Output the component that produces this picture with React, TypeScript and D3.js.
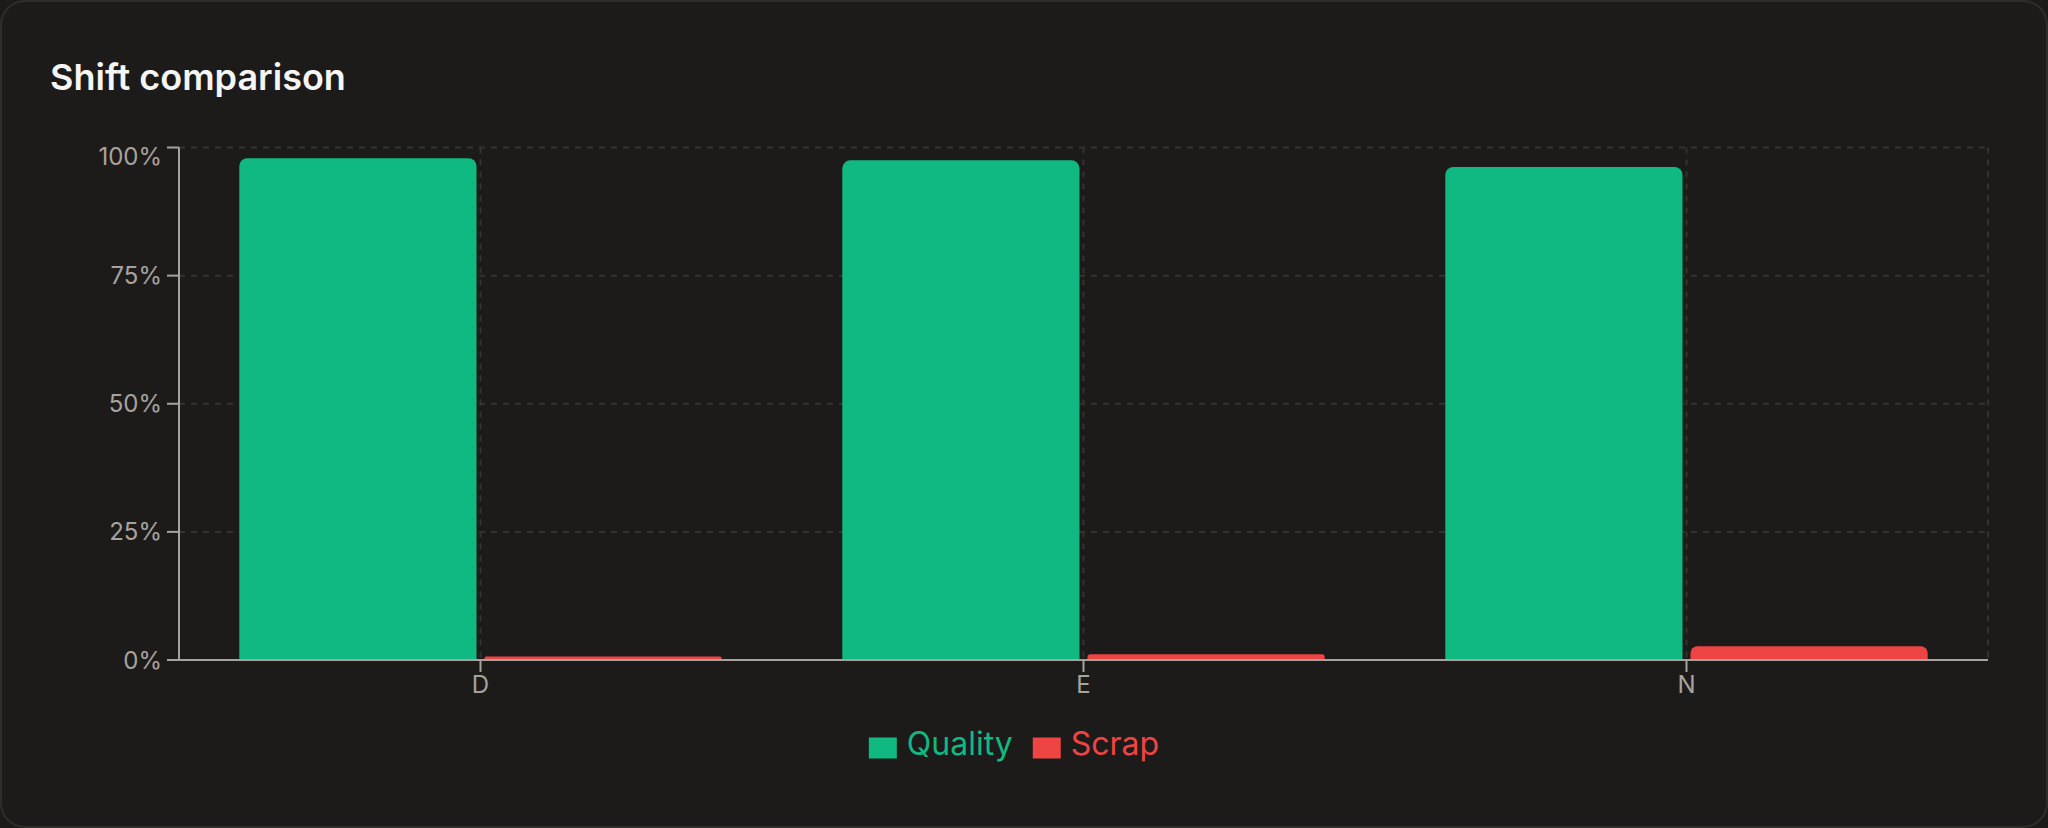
import React, { useEffect, useRef } from "react";
import * as d3 from "d3";

const titleText = "Shift comparison";
const categories = ["D", "E", "N"];
const seriesNames = ["Quality", "Scrap"];
const qualityValues = [97.9, 97.5, 96.2];
const scrapValues = [0.7, 1.1, 2.7];
const yTickValues = [0, 25, 50, 75, 100];

const W = 2048;
const H = 828;
const seriesColors: Record<string, string> = { Quality: "#10b981", Scrap: "#ef4444" };
const FONT = "Inter, 'Noto Sans', sans-serif";

function topRoundedPath(x: number, y: number, w: number, h: number, rMax: number) {
  const r = Math.max(0, Math.min(rMax, h / 2, w / 2));
  return `M${x},${y + h}V${y + r}A${r},${r} 0 0 1 ${x + r},${y}H${x + w - r}A${r},${r} 0 0 1 ${x + w},${y + r}V${y + h}Z`;
}

export default function App() {
  const ref = useRef<SVGSVGElement>(null);

  useEffect(() => {
    const svg = d3.select(ref.current as SVGSVGElement);
    svg.selectAll("*").remove();

    svg.append("rect").attr("width", W).attr("height", H).attr("fill", "#1c1b1a");
    svg
      .append("rect")
      .attr("x", 1)
      .attr("y", 1)
      .attr("width", W - 2)
      .attr("height", H - 2)
      .attr("rx", 24)
      .attr("fill", "#1c1b1a")
      .attr("stroke", "#2f2d2a")
      .attr("stroke-width", 2);

    svg
      .append("text")
      .attr("x", 50)
      .attr("y", 90)
      .attr("fill", "#f5f5f4")
      .attr("font-family", FONT)
      .attr("font-size", 36)
      .attr("font-weight", 600)
      .text(titleText);

    const left = 179;
    const right = 1988;
    const top = 147.5;
    const bottom = 660;

    const y = d3.scaleLinear().domain([0, 100]).range([bottom, top]);
    const x0 = d3.scaleBand<string>().domain(categories).range([left, right]).paddingInner(0.2).paddingOuter(0.1);
    const bw = x0.bandwidth();
    const gap = 8;
    const step1 = (bw + gap) / 2;
    const x1 = d3.scaleBand<string>().domain(seriesNames).range([0, bw]).paddingInner(gap / step1).paddingOuter(0);

    const grid = svg.append("g").attr("stroke", "#34322f").attr("stroke-width", 2).attr("stroke-dasharray", "6 6").attr("fill", "none");
    yTickValues.forEach((t) => {
      grid.append("line").attr("x1", left).attr("x2", right).attr("y1", y(t)).attr("y2", y(t));
    });
    categories.forEach((c) => {
      const cx = (x0(c) as number) + bw / 2;
      grid.append("line").attr("x1", cx).attr("x2", cx).attr("y1", top).attr("y2", bottom);
    });
    grid.append("line").attr("x1", right).attr("x2", right).attr("y1", top).attr("y2", bottom);

    const valuesBySeries: Record<string, number[]> = { Quality: qualityValues, Scrap: scrapValues };
    const bars = svg.append("g");
    seriesNames.forEach((s) => {
      categories.forEach((c, i) => {
        const v = valuesBySeries[s][i];
        const bx = (x0(c) as number) + (x1(s) as number);
        const by = y(v);
        const bh = bottom - by;
        bars.append("path").attr("d", topRoundedPath(bx, by, x1.bandwidth(), bh, 8)).attr("fill", seriesColors[s]);
      });
    });

    const axisColor = "#a8a29e";
    const axes = svg.append("g");
    axes.append("line").attr("x1", left).attr("x2", left).attr("y1", top).attr("y2", bottom).attr("stroke", axisColor).attr("stroke-width", 2);
    axes.append("line").attr("x1", left).attr("x2", right).attr("y1", bottom).attr("y2", bottom).attr("stroke", axisColor).attr("stroke-width", 2);

    yTickValues.forEach((t) => {
      const ty = y(t);
      axes.append("line").attr("x1", left - 12).attr("x2", left).attr("y1", ty).attr("y2", ty).attr("stroke", axisColor).attr("stroke-width", 2);
      const labelY = Math.max(ty, top + 9);
      axes
        .append("text")
        .attr("x", left - 17)
        .attr("y", labelY)
        .attr("dy", "0.355em")
        .attr("text-anchor", "end")
        .attr("fill", axisColor)
        .attr("font-family", FONT)
        .attr("font-size", 24)
        .text(`${t}%`);
    });

    categories.forEach((c) => {
      const cx = (x0(c) as number) + bw / 2;
      axes.append("line").attr("x1", cx).attr("x2", cx).attr("y1", bottom).attr("y2", bottom + 12).attr("stroke", axisColor).attr("stroke-width", 2);
      axes
        .append("text")
        .attr("x", cx)
        .attr("y", 693)
        .attr("text-anchor", "middle")
        .attr("fill", axisColor)
        .attr("font-family", FONT)
        .attr("font-size", 24)
        .text(c);
    });

    // legend
    const legend = svg.append("g");
    const items = seriesNames.map((s) => {
      const g = legend.append("g");
      g.append("rect").attr("x", 0).attr("y", -10.5).attr("width", 28).attr("height", 21).attr("fill", seriesColors[s]);
      const t = g
        .append("text")
        .attr("x", 38)
        .attr("y", 7)
        .attr("fill", seriesColors[s])
        .attr("font-family", FONT)
        .attr("font-size", 32)
        .text(s);
      const tw = (t.node() as SVGTextElement).getComputedTextLength();
      return { g, w: 38 + tw + 20 };
    });
    const total = d3.sum(items, (d) => d.w);
    let cx = 1024 - total / 2;
    items.forEach((it) => {
      it.g.attr("transform", `translate(${cx},748)`);
      cx += it.w;
    });
  }, []);

  return (
    <svg
      ref={ref}
      width={W}
      height={H}
      style={{ position: "fixed", left: 0, top: 0, display: "block" }}
    />
  );
}
